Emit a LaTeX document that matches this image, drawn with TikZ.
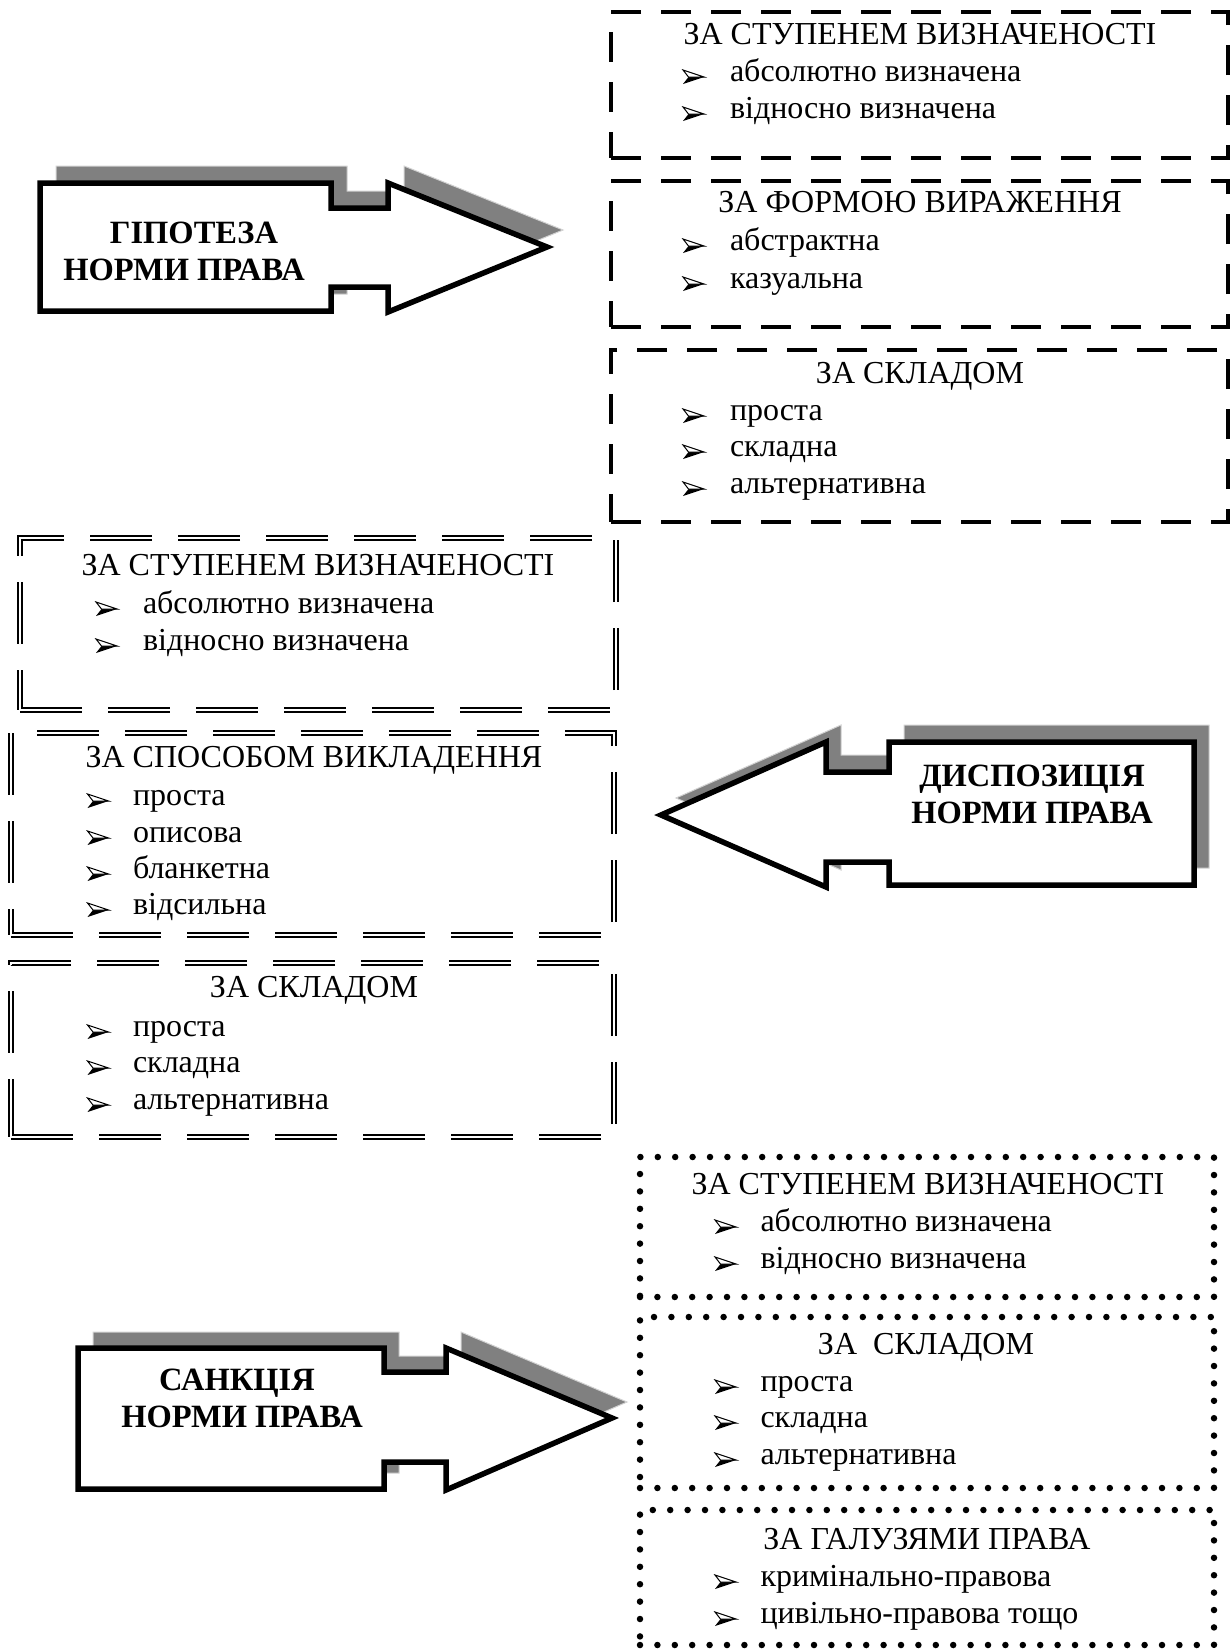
\documentclass[tikz,border=0pt]{standalone}
\usepackage{fontspec}
\setmainfont{Liberation Serif}
\begin{document}
\begin{tikzpicture}[x=1pt,y=-1pt,
  every node/.style={inner sep=0pt, outer sep=0pt},
  txt/.style={font=\fontsize{32}{37}\selectfont},
  ttl/.style={txt, anchor=mid},
  itm/.style={txt, anchor=mid west},
  bold2/.style={font=\fontsize{32.5}{37}\selectfont\bfseries, align=center},
  hbox/.style={draw, line width=4.3pt, dash pattern=on 30pt off 20pt},
  dbox/.style={draw, double, line width=1.8pt, double distance=2.4pt, dash pattern=on 62pt off 26pt},
  sbox/.style={draw, line width=6.5pt, line cap=round, dash pattern=on 0pt off 17.4pt},
  shadowshape/.style={fill=gray, draw=gray!35, line width=1pt},
  arrowshape/.style={fill=white, draw=black, line width=5.5pt, line join=miter},
  bul/.pic={
    \fill[black] (5.5,0) -- (21,0) -- (0,7) -- cycle;
    \draw[black, fill=white, line width=1pt, line join=miter] (0,-7) -- (21,0) -- (5.5,0) -- cycle;
  }
]
\useasboundingbox (0,0) rectangle (1231,1650);

% ---------- Hypothesis arrow ----------
\begin{scope}[shift={(16,-17)}]
\draw[shadowshape] (40,183) -- (331,183) -- (331,208) -- (388,208) -- (388,183) -- (547,247) -- (388,312) -- (388,287) -- (331,287) -- (331,311) -- (40,311) -- cycle;
\end{scope}
\draw[arrowshape] (40,183) -- (331,183) -- (331,208) -- (388,208) -- (388,183) -- (547,247) -- (388,312) -- (388,287) -- (331,287) -- (331,311) -- (40,311) -- cycle;
\node[bold2] (hyp) at (184,251) {\hspace*{20pt}ГІПОТЕЗА\\НОРМИ ПРАВА};

% ---------- Hypothesis boxes ----------
\node[hbox, minimum width=617pt, minimum height=146pt] (h1) at (919.5,85) {};
\node[hbox, minimum width=617pt, minimum height=146pt] (h2) at (919.5,254) {};
\node[hbox, minimum width=617pt, minimum height=172pt] (h3) at (919.5,436) {};

\node[ttl] (h1t) at (920,42) {ЗА СТУПЕНЕМ ВИЗНАЧЕНОСТІ};
\node[itm] (h1a) at (730,79) {абсолютно визначена};
\node[itm] (h1b) at (730,116) {відносно визначена};

\node[ttl] (h2t) at (920,210) {ЗА ФОРМОЮ ВИРАЖЕННЯ};
\node[itm] (h2a) at (730,248) {абстрактна};
\node[itm] (h2b) at (730,286) {казуальна};

\node[ttl] (h3t) at (920,381) {ЗА СКЛАДОМ};
\node[itm] (h3a) at (730,418) {проста};
\node[itm] (h3b) at (730,454) {складна};
\node[itm] (h3c) at (730,491) {альтернативна};

\foreach \yy in {77,114,246,284,416,452,489} \pic at (683,\yy) {bul};

% ---------- Disposition arrow ----------
\begin{scope}[shift={(15,-17)}]
\draw[shadowshape] (1194,742) -- (889,742) -- (889,772) -- (826,772) -- (826,742) -- (661,815) -- (826,887) -- (826,862) -- (889,862) -- (889,885) -- (1194,885) -- cycle;
\end{scope}
\draw[arrowshape] (1194,742) -- (889,742) -- (889,772) -- (826,772) -- (826,742) -- (661,815) -- (826,887) -- (826,862) -- (889,862) -- (889,885) -- (1194,885) -- cycle;
\node[bold2] (disp) at (1032,794) {ДИСПОЗИЦІЯ\\НОРМИ ПРАВА};

% ---------- Disposition boxes ----------
\node[dbox, minimum width=596pt, minimum height=172pt] (d1) at (318,624) {};
\node[dbox, minimum width=603pt, minimum height=202pt] (d2) at (312.5,834) {};
\node[dbox, minimum width=603pt, minimum height=174pt] (d3) at (312.5,1050) {};

\node[ttl] (d1t) at (318,573) {ЗА СТУПЕНЕМ ВИЗНАЧЕНОСТІ};
\node[itm] (d1a) at (143,611) {абсолютно визначена};
\node[itm] (d1b) at (143,648) {відносно визначена};

\node[ttl] (d2t) at (314,765) {ЗА СПОСОБОМ ВИКЛАДЕННЯ};
\node[itm] (d2a) at (133,803) {проста};
\node[itm] (d2b) at (133,840) {описова};
\node[itm] (d2c) at (133,876) {бланкетна};
\node[itm] (d2d) at (133,912) {відсильна};

\node[ttl] (d3t) at (314,995) {ЗА СКЛАДОМ};
\node[itm] (d3a) at (133,1034) {проста};
\node[itm] (d3b) at (133,1070) {складна};
\node[itm] (d3c) at (133,1107) {альтернативна};

\foreach \yy in {609,646} \pic at (96,\yy) {bul};
\foreach \yy in {801,838,874,910,1032,1068,1105} \pic at (87.5,\yy) {bul};

% ---------- Sanction arrow ----------
\begin{scope}[shift={(15,-16)}]
\draw[shadowshape] (78,1348) -- (384,1348) -- (384,1372) -- (446,1372) -- (446,1348) -- (612,1418) -- (446,1490) -- (446,1462) -- (384,1462) -- (384,1489) -- (78,1489) -- cycle;
\end{scope}
\draw[arrowshape] (78,1348) -- (384,1348) -- (384,1372) -- (446,1372) -- (446,1348) -- (612,1418) -- (446,1490) -- (446,1462) -- (384,1462) -- (384,1489) -- (78,1489) -- cycle;
\node[bold2] (sanc) at (242,1398) {САНКЦІЯ\hspace*{10pt}\\НОРМИ ПРАВА};

% ---------- Sanction boxes ----------
\node[sbox, minimum width=574pt, minimum height=140pt] (s1) at (927,1227) {};
\node[sbox, minimum width=574pt, minimum height=171pt] (s2) at (927,1402.5) {};
\node[sbox, minimum width=574pt, minimum height=135pt] (s3) at (927,1577.5) {};

\node[ttl] (s1t) at (928,1192) {ЗА СТУПЕНЕМ ВИЗНАЧЕНОСТІ};
\node[itm] (s1a) at (760.5,1229) {абсолютно визначена};
\node[itm] (s1b) at (760.5,1266) {відносно визначена};

\node[ttl] (s2t) at (926,1352) {ЗА\ \ СКЛАДОМ};
\node[itm] (s2a) at (760.5,1389) {проста};
\node[itm] (s2b) at (760.5,1425) {складна};
\node[itm] (s2c) at (760.5,1462) {альтернативна};

\node[ttl] (s3t) at (927,1547) {ЗА ГАЛУЗЯМИ ПРАВА};
\node[itm] (s3a) at (760.5,1584) {кримінально-правова};
\node[itm] (s3b) at (760.5,1621) {цивільно-правова тощо};

\foreach \yy in {1227,1264,1387,1423,1460,1582,1619} \pic at (715,\yy) {bul};
\end{tikzpicture}
\end{document}
